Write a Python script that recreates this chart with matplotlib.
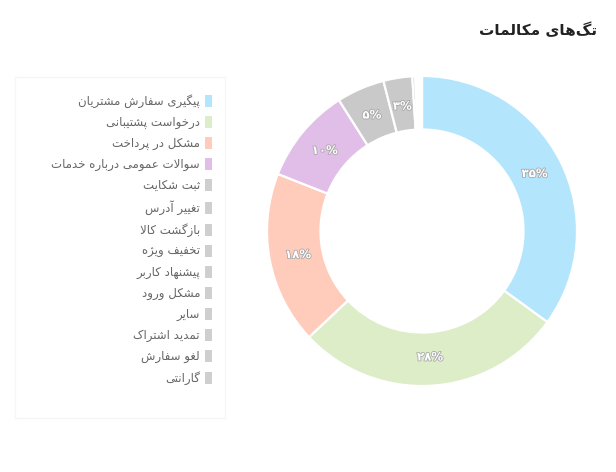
import matplotlib
matplotlib.use("Agg")
import matplotlib.pyplot as plt
from matplotlib.patches import Patch, Rectangle
import matplotlib.patheffects as pe

# ---------------- data ----------------
tags = ["پیگیری سفارش مشتریان", "درخواست پشتیبانی", "مشکل در پرداخت",
        "سوالات عمومی درباره خدمات", "ثبت شکایت", "تغییر آدرس", "بازگشت کالا",
        "تخفیف ویژه", "پیشنهاد کاربر", "مشکل ورود", "سایر", "تمدید اشتراک",
        "لغو سفارش", "گارانتی"]
values = [35, 28, 18, 10, 5, 3, 0.3, 0.2, 0.15, 0.1, 0.1, 0.05, 0.05, 0.05]
colors = ["#b3e5fc", "#dcedc8", "#ffccbc", "#e1bee7"] + ["#c9c9c9"] * 10
legend_colors = ["#b3e5fc", "#dcedc8", "#ffccbc", "#e1bee7"] + ["#cfcfcf"] * 10
title = "تگ‌های مکالمات"

# ---------------- minimal Arabic/Persian shaper ----------------
FORMS = {
    'ا': ('\uFE8D', '\uFE8E', None, None), 'آ': ('\uFE81', '\uFE82', None, None),
    'ب': ('\uFE8F', '\uFE90', '\uFE91', '\uFE92'), 'ت': ('\uFE95', '\uFE96', '\uFE97', '\uFE98'),
    'ث': ('\uFE99', '\uFE9A', '\uFE9B', '\uFE9C'), 'ج': ('\uFE9D', '\uFE9E', '\uFE9F', '\uFEA0'),
    'ح': ('\uFEA1', '\uFEA2', '\uFEA3', '\uFEA4'), 'خ': ('\uFEA5', '\uFEA6', '\uFEA7', '\uFEA8'),
    'د': ('\uFEA9', '\uFEAA', None, None), 'ذ': ('\uFEAB', '\uFEAC', None, None),
    'ر': ('\uFEAD', '\uFEAE', None, None), 'ز': ('\uFEAF', '\uFEB0', None, None),
    'س': ('\uFEB1', '\uFEB2', '\uFEB3', '\uFEB4'), 'ش': ('\uFEB5', '\uFEB6', '\uFEB7', '\uFEB8'),
    'ص': ('\uFEB9', '\uFEBA', '\uFEBB', '\uFEBC'), 'ض': ('\uFEBD', '\uFEBE', '\uFEBF', '\uFEC0'),
    'ط': ('\uFEC1', '\uFEC2', '\uFEC3', '\uFEC4'), 'ظ': ('\uFEC5', '\uFEC6', '\uFEC7', '\uFEC8'),
    'ع': ('\uFEC9', '\uFECA', '\uFECB', '\uFECC'), 'غ': ('\uFECD', '\uFECE', '\uFECF', '\uFED0'),
    'ف': ('\uFED1', '\uFED2', '\uFED3', '\uFED4'), 'ق': ('\uFED5', '\uFED6', '\uFED7', '\uFED8'),
    'ل': ('\uFEDD', '\uFEDE', '\uFEDF', '\uFEE0'), 'م': ('\uFEE1', '\uFEE2', '\uFEE3', '\uFEE4'),
    'ن': ('\uFEE5', '\uFEE6', '\uFEE7', '\uFEE8'), 'ه': ('\uFEE9', '\uFEEA', '\uFEEB', '\uFEEC'),
    'و': ('\uFEED', '\uFEEE', None, None),
    'پ': ('\uFB56', '\uFB57', '\uFB58', '\uFB59'), 'چ': ('\uFB7A', '\uFB7B', '\uFB7C', '\uFB7D'),
    'ژ': ('\uFB8A', '\uFB8B', None, None), 'ک': ('\uFB8E', '\uFB8F', '\uFB90', '\uFB91'),
    'گ': ('\uFB92', '\uFB93', '\uFB94', '\uFB95'), 'ی': ('\uFBFC', '\uFBFD', '\uFBFE', '\uFBFF'),
}
LAMALEF = {'ا': ('\uFEFB', '\uFEFC'), 'آ': ('\uFEF5', '\uFEF6')}


def _dual(c):
    return c in FORMS and FORMS[c][2] is not None


def _joins(c):
    return c in FORMS


def shape(s):
    out = []
    i, n = 0, len(s)
    while i < n:
        c = s[i]
        prev = s[i - 1] if i > 0 else ''
        nxt = s[i + 1] if i + 1 < n else ''
        cp = _dual(prev) and _joins(c)
        if c == 'ل' and nxt in LAMALEF:
            out.append(LAMALEF[nxt][1 if cp else 0])
            i += 2
            continue
        if c not in FORMS:
            if c != '\u200c':
                out.append(c)
            i += 1
            continue
        cn = _dual(c) and _joins(nxt)
        f = FORMS[c]
        if cp and cn:
            out.append(f[3])
        elif cp:
            out.append(f[1])
        elif cn:
            out.append(f[2])
        else:
            out.append(f[0])
        i += 1
    return ''.join(reversed(out))


FA_DIGITS = str.maketrans('0123456789', '۰۱۲۳۴۵۶۷۸۹')


def pct_label(p):
    if p < 2.5:
        return ''
    return '{:d}%'.format(int(round(p))).translate(FA_DIGITS)


# ---------------- figure ----------------
W, H = 616, 472
fig = plt.figure(figsize=(W / 100, H / 100), dpi=100)
plt.rcParams['font.family'] = ['DejaVu Sans']

cx, cy, R = 422, 231, 155
lim = 1.04
half = R * lim
ax = fig.add_axes([(cx - half) / W, (H - cy - half) / H, 2 * half / W, 2 * half / H])
wedges, texts, autotexts = ax.pie(
    values, colors=colors, startangle=90, counterclock=False, radius=1,
    wedgeprops=dict(width=0.345, edgecolor='white', linewidth=1.6),
    autopct=pct_label, pctdistance=0.815,
    textprops=dict(color='white', fontsize=8.5, fontweight='bold'))
for t in autotexts:
    t.set_path_effects([pe.Stroke(linewidth=1.2, foreground='#a8a8a8'), pe.Normal()])
ax.set_xlim(-lim, lim)
ax.set_ylim(-lim, lim)
ax.set_aspect('equal')
ax.axis('off')

# title
fig.text(597 / W, 1 - 30 / H, shape(title), ha='right', va='center',
         fontsize=11, fontweight='bold', color='#222222')

# legend box
fig.patches.append(Rectangle((15 / W, 1 - 418 / H), 210 / W, 341 / H,
                             transform=fig.transFigure, facecolor='none',
                             edgecolor='#f6f6f6', linewidth=1))

handles = [Patch(facecolor=c, edgecolor='none') for c in legend_colors]
fs = 8.5
fspx = fs * 100 / 72
fig.legend(handles, [shape(t) for t in tags], loc='upper right',
           bbox_to_anchor=(212 / W, 1 - 94 / H), bbox_transform=fig.transFigure,
           frameon=False, markerfirst=False, borderpad=0, borderaxespad=0,
           handlelength=7 / fspx, handleheight=14 / fspx,
           labelspacing=(22 - 14) / fspx, handletextpad=5 / fspx,
           prop=dict(size=fs), labelcolor='#666666')

fig.savefig('out.png', dpi=100)
